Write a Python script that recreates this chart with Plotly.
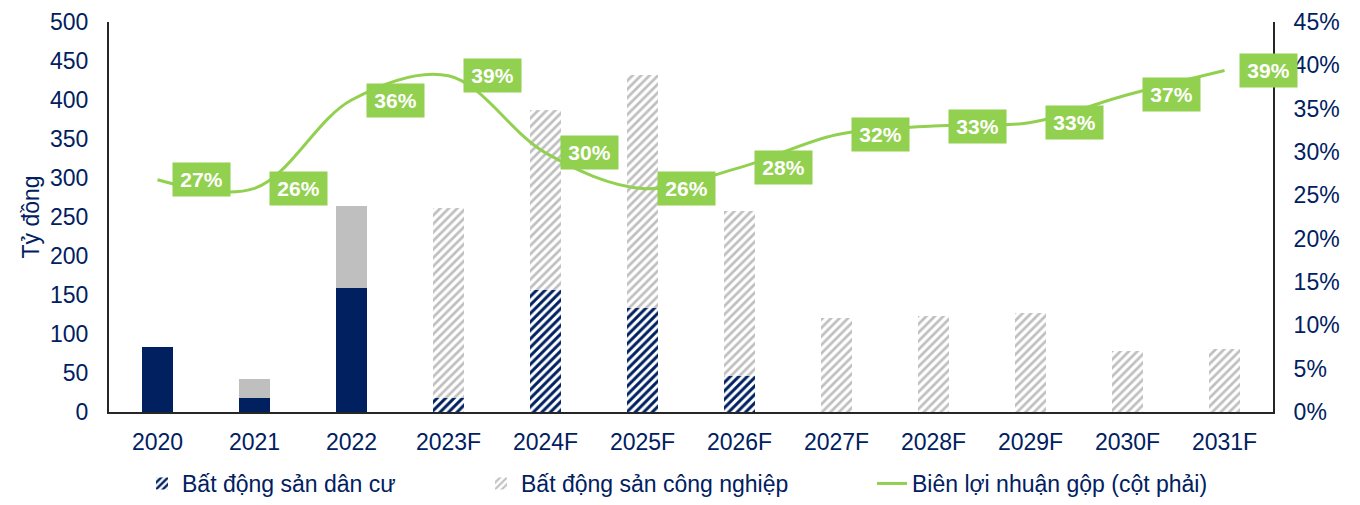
import plotly.graph_objects as go

years = ["2020", "2021", "2022", "2023F", "2024F", "2025F", "2026F",
         "2027F", "2028F", "2029F", "2030F", "2031F"]
residential = [83, 18, 159, 18, 156, 133, 46, 0, 0, 0, 0, 0]
industrial = [0, 24, 105, 244, 231, 299, 212, 121, 123, 127, 78, 81]
gross_margin = [0.268, 0.258, 0.36, 0.388, 0.299, 0.258, 0.282, 0.32, 0.33, 0.334, 0.366, 0.394]
margin_labels = ["27%", "26%", "36%", "39%", "30%", "26%", "28%", "32%", "33%", "33%", "37%", "39%"]
forecast = [y.endswith("F") for y in years]

NAVY = "#002060"
GRAY = "#BFBFBF"
GREEN = "#92D050"
FONT = "Liberation Sans, Arial, sans-serif"

def pick(vals, fc):
    return [v if (f == fc and v) else None for v, f in zip(vals, forecast)]

fig = go.Figure()
bw = 0.32
fig.add_trace(go.Bar(x=years, y=pick(residential, False), width=bw,
                     marker=dict(color=NAVY, line=dict(width=0)),
                     showlegend=False, yaxis="y"))
fig.add_trace(go.Bar(x=years, y=pick(residential, True), width=bw,
                     name="Bất động sản dân cư", legend="legend",
                     marker=dict(color=NAVY, line=dict(width=0),
                                 pattern=dict(shape="/", fgcolor=NAVY, bgcolor="white",
                                              fgopacity=1, size=6, solidity=0.5,
                                              fillmode="overlay")),
                     yaxis="y"))
fig.add_trace(go.Bar(x=years, y=pick(industrial, False), width=bw,
                     marker=dict(color=GRAY, line=dict(width=0)),
                     showlegend=False, yaxis="y"))
fig.add_trace(go.Bar(x=years, y=pick(industrial, True), width=bw,
                     name="Bất động sản công nghiệp", legend="legend2",
                     marker=dict(color=GRAY, line=dict(width=0),
                                 pattern=dict(shape="/", fgcolor=GRAY, bgcolor="white",
                                              fgopacity=1, size=6, solidity=0.45,
                                              fillmode="overlay")),
                     yaxis="y"))
fig.add_trace(go.Scatter(x=years, y=gross_margin, mode="lines",
                         line=dict(color=GREEN, width=3, shape="spline", smoothing=1.0),
                         name="Biên lợi nhuận gộp (cột phải)", legend="legend3",
                         yaxis="y2"))

# category positions by index (category axis serial numbers)
for i, (v, lab) in enumerate(zip(gross_margin, margin_labels)):
    fig.add_annotation(x=i, y=v, xref="x", yref="y2", text="<b>" + lab + "</b>",
                       showarrow=False, xshift=44, bgcolor=GREEN,
                       font=dict(color="white", size=21, family=FONT),
                       width=55, height=31, borderpad=1)

# the page body adds an 8px offset; figure coordinates below
W, H = 1352, 497
L, R, T, B = 101, 1265, 14, 404
legend_font = dict(family=FONT, size=23, color=NAVY)
def px(xp):
    return (xp - L) / (R - L)
def py(yp):
    return (B - yp) / (B - T)

leg_common = dict(orientation="h", y=py(H), xanchor="left", yanchor="bottom",
                  font=legend_font, bgcolor="rgba(0,0,0,0)")
fig.update_layout(
    width=W, height=H,
    margin=dict(l=L, r=W - R, t=T, b=H - B, autoexpand=False),
    paper_bgcolor="white", plot_bgcolor="white",
    barmode="stack",
    font=dict(family=FONT, color=NAVY),
    xaxis=dict(type="category", range=[-0.5, len(years) - 0.5], autorange=False,
               showgrid=False, showline=True, linecolor="#262626", automargin=False,
               linewidth=2, ticks="", tickfont=dict(size=23, color=NAVY),
               ticklabelstandoff=8),
    yaxis=dict(range=[0, 500], dtick=50, showgrid=False, showline=True, automargin=False,
               linecolor="#262626", linewidth=2, ticks="", zeroline=False,
               tickfont=dict(size=23, color=NAVY), ticklabelstandoff=14,
               title=dict(text="Tỷ đồng", font=dict(size=23, color=NAVY), standoff=4)),
    yaxis2=dict(range=[0, 0.45], dtick=0.05, tickformat=".0%", overlaying="y",
                side="right", showgrid=False, showline=True, linecolor="#262626",
                linewidth=2, ticks="", zeroline=False, automargin=False,
                tickfont=dict(size=23, color=NAVY), ticklabelstandoff=14),
    legend=dict(x=px(134), **leg_common),
    legend2=dict(x=px(473), **leg_common),
    legend3=dict(x=px(864), **leg_common),
)

fig.write_html("out.html")
